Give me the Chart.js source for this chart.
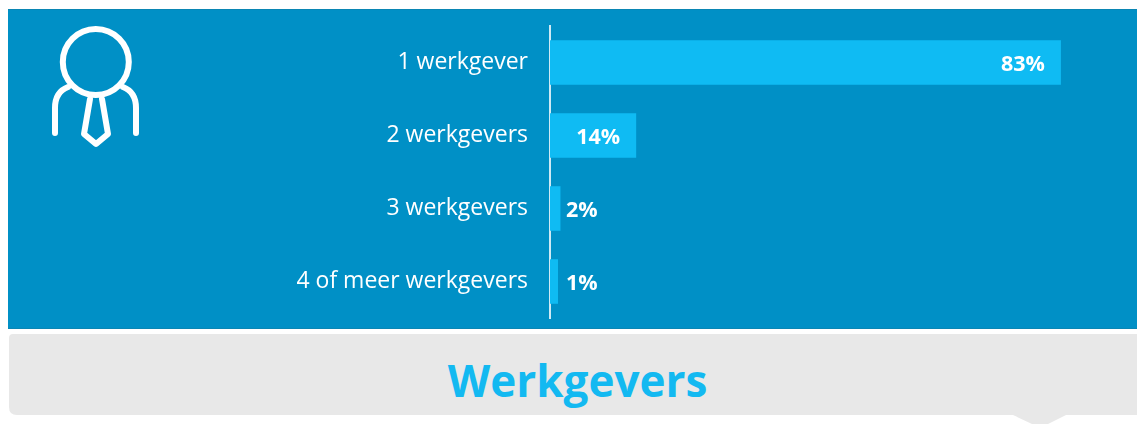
<!DOCTYPE html>
<html lang="nl">
<head>
<meta charset="utf-8">
<title>Werkgevers</title>
<script src="https://cdn.jsdelivr.net/npm/chart.js@4"></script>
<style>
    html, body { margin: 0; padding: 0; background: #fff; width: 1137px; height: 424px; overflow: hidden; }
    body { position: relative; font-family: "Open Sans", sans-serif; }
    #panel { position: absolute; left: 8px; top: 9px; width: 1129px; height: 320px; background: #0090c6; box-sizing: border-box; border-top: 1px solid #0a86b4; border-bottom: 1px solid #0a86b4; }
    #footer { position: absolute; left: 0; top: 0; }
    #title { position: absolute; left: 9px; width: 1137px; top: 350px; text-align: center; font: bold 44px/60px "Open Sans", sans-serif; color: #13b9f1; }
    #icon { position: absolute; left: 0; top: 0; }
    canvas { position: absolute; left: 0; top: 0; }
</style>
</head>
<body>
<div id="panel"></div>
<svg id="footer" width="1137" height="424">
    <path d="M9 338 Q9 334 13 334 H1137 V415 H1066 L1048 424 H1032 L1013 415 H17 Q9 415 9 407 Z" fill="#e8e8e8"/>
</svg>
<svg id="icon" width="200" height="160" fill="none" stroke="#fff" stroke-width="6" stroke-linecap="round" stroke-linejoin="round">
    <circle cx="95.8" cy="62" r="33"/>
    <path d="M55 133 V108 Q55 92 68 87"/>
    <path d="M136 133 V108 Q136 92 123 87"/>
    <path d="M90 99 L84 134 L96 144 L108 134 L102 99"/>
</svg>
<div id="title">Werkgevers</div>
<canvas id="chart" width="1137" height="424"></canvas>
<script>
// === Data ===
const categories = ['1 werkgever', '2 werkgevers', '3 werkgevers', '4 of meer werkgevers'];
const barValues = [83, 14, 1.7, 1.3];
const valueLabels = ['83%', '14%', '2%', '1%'];

// === Value labels: inside the end of long bars, next to the short ones ===
const valueLabelPlugin = {
    id: 'valueLabels',
    afterDatasetsDraw(chart) {
        const ctx = chart.ctx;
        const bars = chart.getDatasetMeta(0).data;
        ctx.save();
        ctx.fillStyle = '#fff';
        ctx.font = 'bold 21.5px "Open Sans", sans-serif';
        ctx.textBaseline = 'middle';
        bars.forEach((bar, i) => {
            const inside = barValues[i] >= 10;
            ctx.textAlign = inside ? 'right' : 'left';
            const x = inside ? bar.x - 16 : bar.base + 16;
            ctx.fillText(valueLabels[i], x, bar.y + 2);
        });
        ctx.restore();
    }
};

// === Chart ===
new Chart(document.getElementById('chart'), {
    type: 'bar',
    data: {
        labels: categories,
        datasets: [{
            data: barValues,
            backgroundColor: '#0fbbf3',
            barPercentage: 0.61,
            categoryPercentage: 1
        }]
    },
    options: {
        indexAxis: 'y',
        responsive: false,
        animation: false,
        layout: { padding: { left: 0, right: 33, top: 26, bottom: 106 } },
        plugins: { legend: { display: false }, tooltip: { enabled: false } },
        scales: {
            x: { display: false, min: 0, max: 90 },
            y: {
                // tick padding would otherwise push the plot area down
                afterFit(scale) {
                    scale.width = 550;
                    scale.paddingTop = 0;
                    scale.paddingBottom = 0;
                },
                grid: { display: false, drawTicks: false },
                border: { color: '#cfeaf5', width: 2 },
                ticks: {
                    color: '#fff',
                    padding: 22,
                    font: { family: '"Open Sans", sans-serif', size: 23 }
                }
            }
        }
    },
    plugins: [valueLabelPlugin]
});
</script>
</body>
</html>
